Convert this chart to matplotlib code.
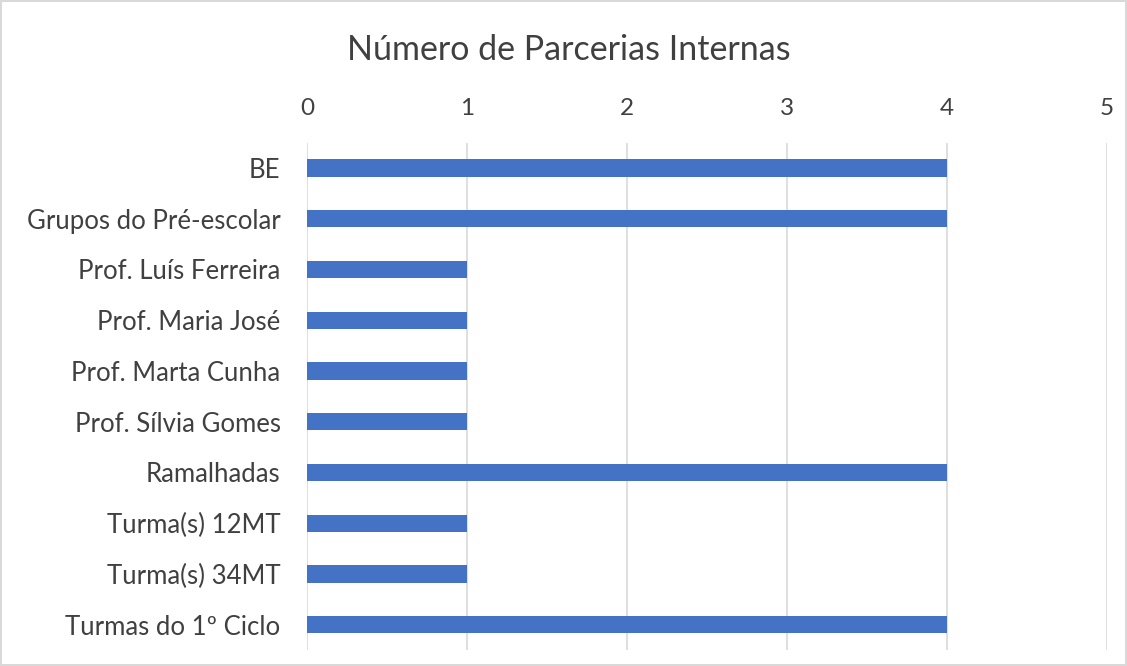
import matplotlib.pyplot as plt

# Dados das parcerias internas
categorias = ['BE', 'Grupos do Pré-escolar', 'Prof. Luís Ferreira', 'Prof. Maria José',
              'Prof. Marta Cunha', 'Prof. Sílvia Gomes', 'Ramalhadas', 'Turma(s) 12MT',
              'Turma(s) 34MT', 'Turmas do 1º Ciclo']
valores = [4, 4, 1, 1, 1, 1, 4, 1, 1, 4]
ticks_x = [0, 1, 2, 3, 4, 5]

plt.rcParams['font.family'] = ['Lato', 'DejaVu Sans']

fig = plt.figure(figsize=(11.27, 6.66), dpi=100)
fig.patch.set_edgecolor('#D9D9D9')
fig.patch.set_linewidth(1.5)
ax = fig.add_axes([0.2724, 0.024, 0.71, 0.762])

y = list(range(len(categorias)))
ax.barh(y, valores, height=0.34, color='#4472C4', zorder=3)
ax.set_ylim(len(categorias) - 0.5, -0.5)
ax.set_yticks(y)
ax.set_yticklabels(categorias, fontsize=18.5, color='#404040')
ax.set_xlim(0, 5)
ax.set_xticks(ticks_x)
ax.set_xticklabels([str(t) for t in ticks_x], fontsize=17.5, color='#404040')
ax.xaxis.tick_top()
ax.tick_params(axis='both', length=0)
ax.tick_params(axis='x', pad=17)
ax.tick_params(axis='y', pad=19)
ax.grid(axis='x', color='#D9D9D9', linewidth=1.2, zorder=0)
for s in ax.spines.values():
    s.set_visible(False)

fig.text(0.505, 0.925, 'Número de Parcerias Internas', ha='center', va='center',
         fontsize=24.5, color='#404040')

fig.savefig('out.png', dpi=100)
